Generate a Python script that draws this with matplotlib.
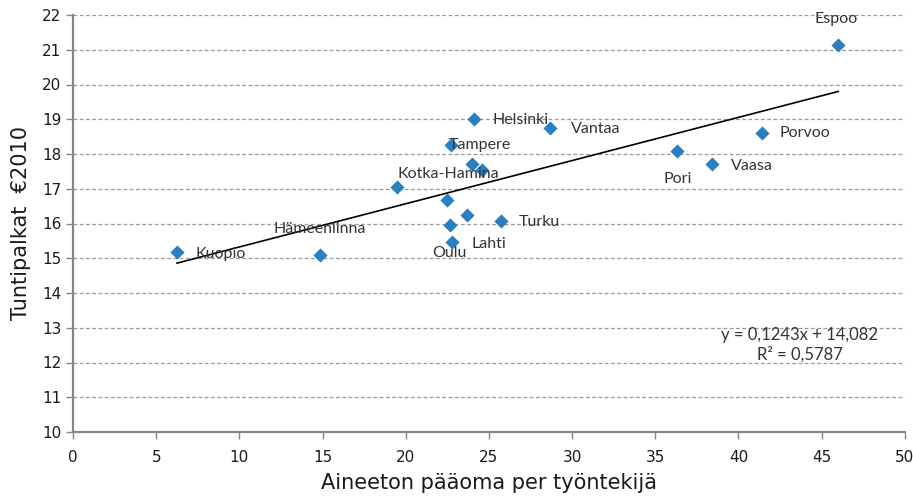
import numpy as np
import matplotlib
matplotlib.use("Agg")
import matplotlib.pyplot as plt

# ── data ─────────────────────────────────────────────────────────────────────
cities = ["Kuopio", "Hämeenlinna", "Kotka-Hamina", "Helsinki", "Vantaa",
          "Tampere", "", "", "", "", "Lahti", "Oulu", "Turku",
          "Pori", "Vaasa", "Porvoo", "Espoo"]
capital = [6.25, 14.85, 19.45, 24.1, 28.7,
           22.7, 24.0, 24.6, 22.5, 23.7, 22.8, 22.65, 25.7,
           36.3, 38.4, 41.4, 46.0]
wage = [15.18, 15.1, 17.05, 19.0, 18.75,
        18.26, 17.72, 17.54, 16.68, 16.25, 15.48, 15.95, 16.08,
        18.1, 17.7, 18.6, 21.15]

slope, intercept = 0.1243, 14.082
r2 = 0.5787

# label offsets in pixels (dx, dy, horizontal alignment)
label_offsets = {
    "Kuopio": (18, -2, "left"),
    "Hämeenlinna": (0, 26, "center"),
    "Kotka-Hamina": (1, 13, "left"),
    "Helsinki": (19, -1, "left"),
    "Vantaa": (20, -1, "left"),
    "Tampere": (-2, 0, "left"),
    "Lahti": (19, -2, "left"),
    "Oulu": (0, -28, "center"),
    "Turku": (18, -1, "left"),
    "Pori": (1, -28, "center"),
    "Vaasa": (19, -2, "left"),
    "Porvoo": (18, 0, "left"),
    "Espoo": (-2, 26, "center"),
}

AXIS_GRAY = "#868686"
TEXT = "#333333"
TICK_FONT = ["Liberation Sans Narrow", "DejaVu Sans"]
LABEL_FONT = ["Lato", "DejaVu Sans"]

fig = plt.figure(figsize=(9.13, 5.0), dpi=100)
ax = fig.add_axes([0.080, 0.136, 0.911, 0.834])

ax.scatter(capital, wage, marker="D", s=52, color="#2a7fc1", zorder=3,
           linewidths=0)

# linear trendline from the reported fit, over the data range
xs = np.array([min(capital), max(capital)])
ax.plot(xs, slope * xs + intercept, color="black", linewidth=1.2, zorder=2)

for name, x, y in zip(cities, capital, wage):
    if not name:
        continue
    dx, dy, ha = label_offsets[name]
    ax.annotate(name, (x, y), xytext=(dx, dy), textcoords="offset pixels",
                ha=ha, va="center", fontsize=11.5, color=TEXT,
                family=LABEL_FONT, zorder=4)

eq = f"y = {slope:.4f}x + {intercept:.3f}".replace(".", ",")
r2_txt = f"R² = {r2:.4f}".replace(".", ",")
ax.text(43.7, 12.5, eq + "\n" + r2_txt,
        ha="center", va="center", fontsize=12, color=TEXT, family=LABEL_FONT,
        linespacing=1.25)

ax.set_xlim(0, 50)
ax.set_ylim(10, 22)
ax.set_xticks(np.arange(0, 51, 5))
ax.set_yticks(np.arange(10, 23, 1))
ax.yaxis.grid(True, linestyle=(0, (3, 2)), color="#999999", linewidth=0.9)
ax.set_axisbelow(True)

for s in ("top", "right"):
    ax.spines[s].set_visible(False)
for s in ("left", "bottom"):
    ax.spines[s].set_color(AXIS_GRAY)
    ax.spines[s].set_linewidth(1.6)
ax.tick_params(axis="both", colors=AXIS_GRAY, length=5, width=1,
               labelcolor="#1a1a1a", labelsize=11)
ax.tick_params(axis="x", pad=8)
for lbl in ax.get_xticklabels() + ax.get_yticklabels():
    lbl.set_family(TICK_FONT)

ax.set_xlabel("Aineeton pääoma per työntekijä", fontsize=15, color="#1a1a1a",
              family=["Liberation Sans Narrow", "DejaVu Sans"], labelpad=6)
ax.set_ylabel("Tuntipalkat  €2010", fontsize=15, color="#1a1a1a",
              family=["Liberation Sans Narrow", "DejaVu Sans"], labelpad=8)

fig.savefig("out.png", dpi=100)
